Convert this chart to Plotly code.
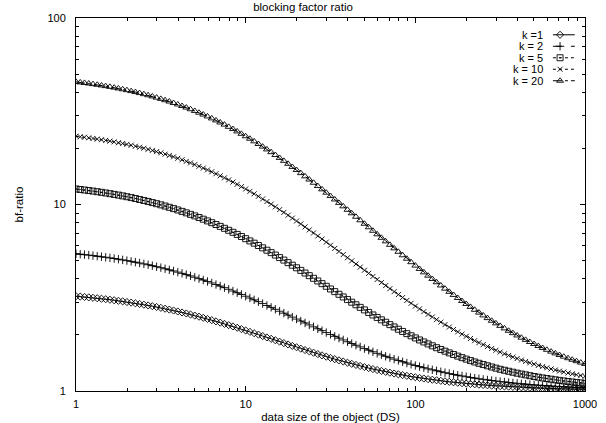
import plotly.graph_objects as go

# x samples (data size of the object, DS)
ds = [1, 1.059, 1.122, 1.189, 1.259, 1.334, 1.413, 1.496, 1.585, 1.679,
      1.778, 1.884, 1.995, 2.113, 2.239, 2.371, 2.512, 2.661, 2.818, 2.985,
      3.162, 3.350, 3.548, 3.758, 3.981, 4.217, 4.467, 4.732, 5.012, 5.309,
      5.623, 5.957, 6.310, 6.683, 7.079, 7.499, 7.943, 8.414, 8.913, 9.441,
      10, 10.59, 11.22, 11.89, 12.59, 13.34, 14.13, 14.96, 15.85, 16.79,
      17.78, 18.84, 19.95, 21.13, 22.39, 23.71, 25.12, 26.61, 28.18, 29.85,
      31.62, 33.50, 35.48, 37.58, 39.81, 42.17, 44.67, 47.32, 50.12, 53.09,
      56.23, 59.57, 63.10, 66.83, 70.79, 74.99, 79.43, 84.14, 89.13, 94.41,
      100, 105.9, 112.2, 118.9, 125.9, 133.4, 141.3, 149.6, 158.5, 167.9,
      177.8, 188.4, 199.5, 211.3, 223.9, 237.1, 251.2, 266.1, 281.8, 298.5,
      316.2, 335.0, 354.8, 375.8, 398.1, 421.7, 446.7, 473.2, 501.2, 530.9,
      562.3, 595.7, 631.0, 668.3, 707.9, 749.9, 794.3, 841.4, 891.3, 944.1,
      1000]

bf_k1 = [3.222, 3.208, 3.193, 3.177, 3.160, 3.143, 3.125, 3.106, 3.087, 3.066,
         3.045, 3.024, 3.001, 2.978, 2.953, 2.928, 2.903, 2.876, 2.849, 2.821,
         2.792, 2.762, 2.732, 2.701, 2.669, 2.637, 2.604, 2.571, 2.537, 2.503,
         2.468, 2.433, 2.398, 2.362, 2.326, 2.290, 2.255, 2.219, 2.183, 2.147,
         2.111, 2.076, 2.041, 2.006, 1.971, 1.937, 1.904, 1.871, 1.839, 1.807,
         1.776, 1.745, 1.716, 1.687, 1.658, 1.631, 1.604, 1.578, 1.553, 1.528,
         1.505, 1.482, 1.460, 1.439, 1.418, 1.399, 1.380, 1.362, 1.344, 1.327,
         1.311, 1.296, 1.281, 1.267, 1.254, 1.241, 1.229, 1.217, 1.206, 1.195,
         1.1852, 1.1756, 1.1664, 1.1576, 1.1494, 1.1414, 1.1340, 1.1269, 1.1201, 1.1137,
         1.1076, 1.1018, 1.0964, 1.0912, 1.0862, 1.0816, 1.0772, 1.0730, 1.0690, 1.0653,
         1.0617, 1.0583, 1.0551, 1.0521, 1.0493, 1.0465, 1.0440, 1.0416, 1.0393, 1.0371,
         1.0351, 1.0331, 1.0313, 1.0296, 1.0279, 1.0264, 1.0249, 1.0236, 1.0222, 1.0210,
         1.0198]

bf_k2 = [5.444, 5.415, 5.385, 5.353, 5.320, 5.285, 5.249, 5.212, 5.173, 5.133,
         5.091, 5.047, 5.002, 4.955, 4.907, 4.857, 4.805, 4.752, 4.698, 4.641,
         4.584, 4.524, 4.464, 4.402, 4.339, 4.274, 4.208, 4.142, 4.074, 4.005,
         3.936, 3.866, 3.795, 3.724, 3.653, 3.581, 3.509, 3.437, 3.365, 3.293,
         3.222, 3.152, 3.081, 3.011, 2.943, 2.874, 2.808, 2.742, 2.677, 2.614,
         2.552, 2.490, 2.431, 2.373, 2.316, 2.261, 2.208, 2.156, 2.106, 2.057,
         2.010, 1.964, 1.920, 1.878, 1.837, 1.797, 1.759, 1.723, 1.688, 1.655,
         1.623, 1.592, 1.563, 1.535, 1.508, 1.482, 1.458, 1.434, 1.412, 1.391,
         1.370, 1.351, 1.333, 1.315, 1.299, 1.283, 1.268, 1.254, 1.240, 1.227,
         1.215, 1.204, 1.193, 1.182, 1.172, 1.163, 1.154, 1.146, 1.138, 1.131,
         1.123, 1.117, 1.110, 1.104, 1.099, 1.093, 1.088, 1.083, 1.079, 1.074,
         1.070, 1.066, 1.063, 1.059, 1.056, 1.053, 1.050, 1.047, 1.044, 1.042,
         1.040]

bf_k5 = [12.11, 12.04, 11.96, 11.88, 11.80, 11.71, 11.62, 11.53, 11.43, 11.33,
         11.23, 11.12, 11.01, 10.89, 10.77, 10.64, 10.51, 10.38, 10.24, 10.10,
         9.959, 9.811, 9.660, 9.505, 9.347, 9.186, 9.021, 8.854, 8.685, 8.514,
         8.341, 8.165, 7.988, 7.811, 7.632, 7.452, 7.273, 7.093, 6.913, 6.734,
         6.556, 6.379, 6.203, 6.028, 5.857, 5.686, 5.519, 5.356, 5.193, 5.034,
         4.879, 4.726, 4.578, 4.433, 4.291, 4.154, 4.020, 3.890, 3.764, 3.642,
         3.524, 3.410, 3.300, 3.194, 3.092, 2.993, 2.899, 2.808, 2.721, 2.637,
         2.557, 2.480, 2.407, 2.337, 2.269, 2.205, 2.144, 2.086, 2.030, 1.977,
         1.926, 1.878, 1.832, 1.788, 1.747, 1.707, 1.670, 1.635, 1.601, 1.569,
         1.538, 1.509, 1.482, 1.456, 1.431, 1.408, 1.386, 1.365, 1.345, 1.326,
         1.308, 1.292, 1.276, 1.261, 1.246, 1.233, 1.220, 1.208, 1.196, 1.186,
         1.175, 1.166, 1.157, 1.148, 1.140, 1.132, 1.125, 1.118, 1.111, 1.105,
         1.099]

bf_k10 = [23.22, 23.08, 22.93, 22.77, 22.60, 22.43, 22.25, 22.06, 21.87, 21.66,
          21.45, 21.24, 21.01, 20.78, 20.53, 20.28, 20.03, 19.76, 19.49, 19.21,
          18.92, 18.62, 18.32, 18.01, 17.69, 17.37, 17.04, 16.71, 16.37, 16.03,
          15.68, 15.33, 14.98, 14.62, 14.26, 13.90, 13.55, 13.19, 12.83, 12.47,
          12.11, 11.76, 11.41, 11.06, 10.71, 10.37, 10.04, 9.711, 9.386, 9.068,
          8.758, 8.452, 8.156, 7.866, 7.581, 7.307, 7.039, 6.779, 6.528, 6.284,
          6.048, 5.819, 5.600, 5.388, 5.183, 4.986, 4.797, 4.615, 4.441, 4.274,
          4.114, 3.960, 3.813, 3.673, 3.538, 3.410, 3.288, 3.171, 3.059, 2.953,
          2.852, 2.756, 2.664, 2.576, 2.494, 2.414, 2.340, 2.269, 2.201, 2.137,
          2.076, 2.018, 1.964, 1.912, 1.862, 1.816, 1.772, 1.730, 1.690, 1.653,
          1.617, 1.583, 1.551, 1.521, 1.493, 1.465, 1.440, 1.416, 1.393, 1.371,
          1.351, 1.331, 1.313, 1.296, 1.279, 1.264, 1.249, 1.236, 1.222, 1.210,
          1.198]

bf_k20 = [45.44, 45.15, 44.85, 44.53, 44.20, 43.85, 43.49, 43.12, 42.73, 42.33,
          41.91, 41.47, 41.02, 40.55, 40.07, 39.57, 39.05, 38.52, 37.98, 37.41,
          36.84, 36.24, 35.64, 35.02, 34.39, 33.74, 33.08, 32.42, 31.74, 31.05,
          30.36, 29.66, 28.95, 28.24, 27.53, 26.81, 26.09, 25.37, 24.65, 23.93,
          23.22, 22.52, 21.81, 21.11, 20.43, 19.74, 19.08, 18.42, 17.77, 17.14,
          16.52, 15.90, 15.31, 14.73, 14.16, 13.61, 13.08, 12.56, 12.06, 11.57,
          11.10, 10.64, 10.20, 9.776, 9.366, 8.972, 8.594, 8.230, 7.882, 7.548,
          7.228, 6.920, 6.626, 6.346, 6.076, 5.820, 5.576, 5.342, 5.118, 4.906,
          4.704, 4.512, 4.328, 4.152, 3.987, 3.829, 3.679, 3.538, 3.402, 3.274,
          3.153, 3.037, 2.928, 2.824, 2.725, 2.632, 2.543, 2.459, 2.380, 2.305,
          2.234, 2.166, 2.103, 2.042, 1.985, 1.931, 1.880, 1.831, 1.786, 1.742,
          1.701, 1.663, 1.626, 1.591, 1.559, 1.528, 1.499, 1.471, 1.445, 1.420,
          1.397]

series_labels = ["k =1", "k = 2", "k = 5", "k = 10", "k = 20"]
series_values = [bf_k1, bf_k2, bf_k5, bf_k10, bf_k20]

x_tick_vals = [1, 10, 100, 1000]
x_tick_text = ["1", "10", "100", "1000"]
y_tick_vals = [1, 10, 100]
y_tick_text = ["1", "10", "100"]

# styles
symbols = ["diamond-open", "cross-thin-open", "square-open-dot", "x-thin-open", "triangle-up-open"]
sizes = [5.5, 6, 6, 5, 6]
dashes = ["solid", "dash", "dot", "dot", "dashdot"]
MW = 0.9

FONT = "Liberation Sans, Arial, Helvetica, sans-serif"

fig = go.Figure()
for lab, vals, sym, sz, dsh in zip(series_labels, series_values, symbols, sizes, dashes):
    fig.add_trace(go.Scatter(
        x=ds, y=vals, mode="lines+markers", name=lab, showlegend=False,
        line=dict(color="black", width=1, dash=dsh),
        marker=dict(symbol=sym, size=sz, color="black", line=dict(color="black", width=MW)),
    ))

# gnuplot-style key (text left of sample), drawn on hidden overlay axes
key_text_x = 0.922
key_line_x0, key_line_x1, key_mark_x = 0.937, 0.980, 0.951
key_y0, key_dy = 0.955, 0.0308
for i, (lab, sym, sz, dsh) in enumerate(zip(series_labels, symbols, sizes, dashes)):
    yy = key_y0 - i * key_dy
    fig.add_trace(go.Scatter(
        x=[key_line_x0, key_line_x1], y=[yy, yy], mode="lines", xaxis="x2", yaxis="y2",
        showlegend=False, hoverinfo="skip",
        line=dict(color="black", width=1, dash=dsh)))
    fig.add_trace(go.Scatter(
        x=[key_mark_x], y=[yy], mode="markers", xaxis="x2", yaxis="y2",
        showlegend=False, hoverinfo="skip",
        marker=dict(symbol=sym, size=sz, color="black", line=dict(color="black", width=MW))))
    fig.add_annotation(x=key_text_x, y=yy, xref="paper", yref="paper", text=lab,
                       showarrow=False, xanchor="right", yanchor="middle",
                       font=dict(family=FONT, size=11, color="black"))

minor_x = [2, 3, 4, 5, 6, 7, 8, 9, 20, 30, 40, 50, 60, 70, 80, 90,
           200, 300, 400, 500, 600, 700, 800, 900]
minor_y = [2, 3, 4, 5, 6, 7, 8, 9, 20, 30, 40, 50, 60, 70, 80, 90]

fig.update_layout(
    width=606, height=423,
    margin=dict(l=76, r=21, t=18, b=32),
    paper_bgcolor="white", plot_bgcolor="white",
    font=dict(family=FONT, size=11, color="black"),
    title=dict(text="blocking factor ratio", x=0.5, xanchor="center", y=0.992, yanchor="top",
               font=dict(family=FONT, size=11.5, color="black")),
    xaxis=dict(type="log", range=[0, 3], tickmode="array", tickvals=x_tick_vals, ticktext=x_tick_text,
               ticks="inside", ticklen=5, tickcolor="black", showline=True, linecolor="black",
               linewidth=1, mirror="allticks", showgrid=False, zeroline=False, automargin=False,
               ticklabelstandoff=3,
               minor=dict(tickmode="array", tickvals=minor_x, ticks="inside", ticklen=3,
                          tickcolor="black", showgrid=False),
               title=dict(text="data size of the object (DS)", standoff=3,
                          font=dict(family=FONT, size=11.5))),
    yaxis=dict(type="log", range=[0, 2], tickmode="array", tickvals=y_tick_vals, ticktext=y_tick_text,
               ticks="inside", ticklen=5, tickcolor="black", showline=True, linecolor="black",
               linewidth=1, mirror="allticks", showgrid=False, zeroline=False, automargin=False,
               ticklabelstandoff=7,
               minor=dict(tickmode="array", tickvals=minor_y, ticks="inside", ticklen=3,
                          tickcolor="black", showgrid=False),
               title=dict(text="bf-ratio", standoff=21, font=dict(family=FONT, size=11.5))),
    xaxis2=dict(overlaying="x", range=[0, 1], visible=False, fixedrange=True),
    yaxis2=dict(overlaying="y", range=[0, 1], visible=False, fixedrange=True),
)

fig.write_html("out.html", config={"displayModeBar": False},
               post_script="document.body.style.margin='0';document.body.style.overflow='hidden';")
